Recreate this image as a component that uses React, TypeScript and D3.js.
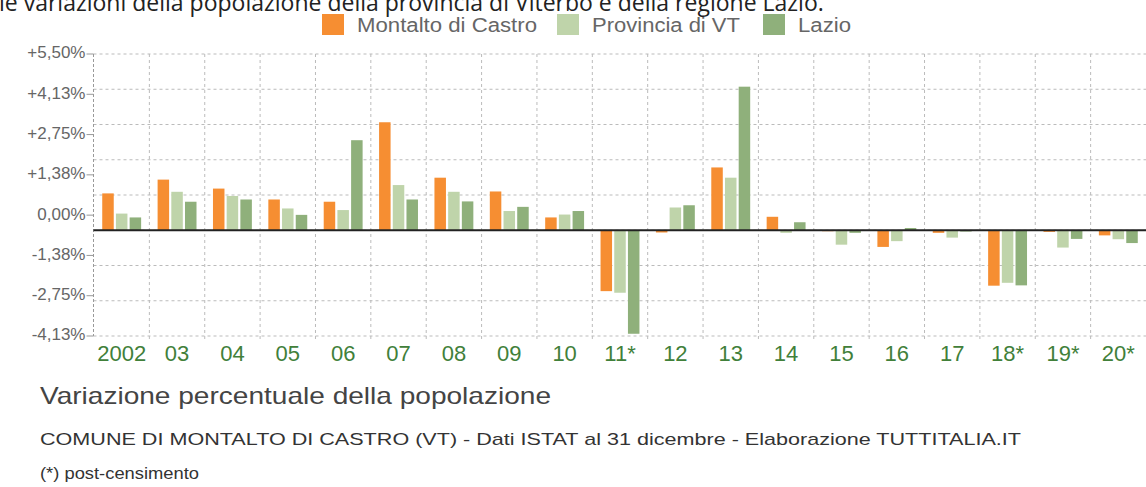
import React from "react";
import * as d3 from "d3";

const categories = ["2002","03","04","05","06","07","08","09","10","11*","12","13","14","15","16","17","18*","19*","20*"];
const montalto = [1.15,1.58,1.30,0.96,0.89,3.37,1.64,1.21,0.40,-1.90,-0.07,1.96,0.42,-0.03,-0.52,-0.08,-1.73,-0.05,-0.16];
const provincia = [0.52,1.20,1.07,0.68,0.63,1.41,1.20,0.60,0.49,-1.95,0.71,1.64,-0.08,-0.45,-0.34,-0.23,-1.64,-0.54,-0.28];
const lazio = [0.40,0.89,0.96,0.48,2.81,0.96,0.90,0.73,0.60,-3.23,0.78,4.48,0.25,-0.08,0.07,-0.04,-1.72,-0.27,-0.40];
const tickLabels = ["+5,50%","+4,13%","+2,75%","+1,38%","0,00%","-1,38%","-2,75%","-4,13%"];
const seriesNames = ["Montalto di Castro","Provincia di VT","Lazio"];
const colors = ["#f68e32","#bfd4aa","#8fb07b"];

const W = 1146, H = 487;
const top = 54, bottom = 336, left = 93.5, right = 1146;

export default function App() {
  const x = d3.scaleBand<string>().domain(categories).range([94, 1146]);
  const yBar = d3.scaleLinear().domain([-3.3, 5.5]).range([bottom, top]);
  const yTick = d3.scaleLinear().domain([0, tickLabels.length - 1]).range([top, bottom]);
  const gridY = d3.range(9).map(i => top + (i * (bottom - top)) / 8);
  const series = [montalto, provincia, lazio];
  const bw = 11.5, pitch = 13.7;
  const pad = (x.bandwidth() - (2 * pitch + bw)) / 2;
  const zero = yBar(0);
  const font = "'Liberation Sans', Arial, Helvetica, sans-serif";
  const legendX = [322, 557, 763];
  const legendW = [180, 148, 53];

  return (
    <svg width={W} height={H} style={{ position: "absolute", left: 0, top: 0, background: "#fff" }} fontFamily={font}>
      <rect x={0} y={0} width={W} height={H} fill="#fff" />
      <text x={-1} y={11} fontFamily="'Open Sans', sans-serif" fontSize={23} fill="#222">
        le variazioni della popolazione della provincia di Viterbo e della regione Lazio.
      </text>
      {/* legend */}
      {seriesNames.map((n, i) => {
        const lx = legendX[i];
        return (
          <g key={n}>
            <rect x={lx} y={14} width={22} height={21} fill={colors[i]} />
            <text x={lx + 35} y={32} fontSize={20} fill="#666" textLength={legendW[i]} lengthAdjust="spacingAndGlyphs">{n}</text>
          </g>
        );
      })}
      {/* horizontal grid */}
      {gridY.map((gy, i) => (
        <line key={"h" + i} x1={left} x2={right} y1={gy} y2={gy} stroke="#bbb" strokeDasharray="3,3" strokeWidth={1} />
      ))}
      {/* vertical grid */}
      {categories.map((c, i) => i > 0 ? (
        <line key={"v" + c} x1={x(c)!} x2={x(c)!} y1={top} y2={bottom + 3} stroke="#bbb" strokeDasharray="3,3" strokeWidth={1} />
      ) : null)}
      {/* y axis */}
      <line x1={left} x2={left} y1={top} y2={bottom} stroke="#999" strokeDasharray="3,2" />
      {tickLabels.map((t, i) => (
        <g key={t}>
          <line x1={left - 7} x2={left} y1={yTick(i)} y2={yTick(i)} stroke="#999" />
          <text x={left - 8} y={yTick(i)} textAnchor="end" dominantBaseline="middle" fontSize={17} fill="#666">{t}</text>
        </g>
      ))}
      {/* bars */}
      {categories.map((c, i) => (
        <g key={"b" + c}>
          {series.map((s, k) => {
            const v = s[i];
            const yv = yBar(v);
            return (
              <rect key={k} x={x(c)! + pad + k * pitch} width={bw}
                y={Math.min(yv, zero)} height={Math.max(Math.abs(yv - zero), 0.8)} fill={colors[k]} />
            );
          })}
        </g>
      ))}
      <line x1={left} x2={right} y1={zero} y2={zero} stroke="#222" strokeWidth={2} />
      {/* x labels */}
      {categories.map(c => (
        <text key={"l" + c} x={x(c)! + x.bandwidth() / 2} y={361} textAnchor="middle" fontSize={22} fill="#41803a">{c}</text>
      ))}
      {/* footer */}
      <text x={40} y={404} fontSize={24} fill="#444" textLength={511} lengthAdjust="spacingAndGlyphs">Variazione percentuale della popolazione</text>
      <text x={40} y={445} fontSize={17} fill="#333" textLength={981} lengthAdjust="spacingAndGlyphs">COMUNE DI MONTALTO DI CASTRO (VT) - Dati ISTAT al 31 dicembre - Elaborazione TUTTITALIA.IT</text>
      <text x={40} y={479} fontSize={17} fill="#333" textLength={159} lengthAdjust="spacingAndGlyphs">(*) post-censimento</text>
    </svg>
  );
}
